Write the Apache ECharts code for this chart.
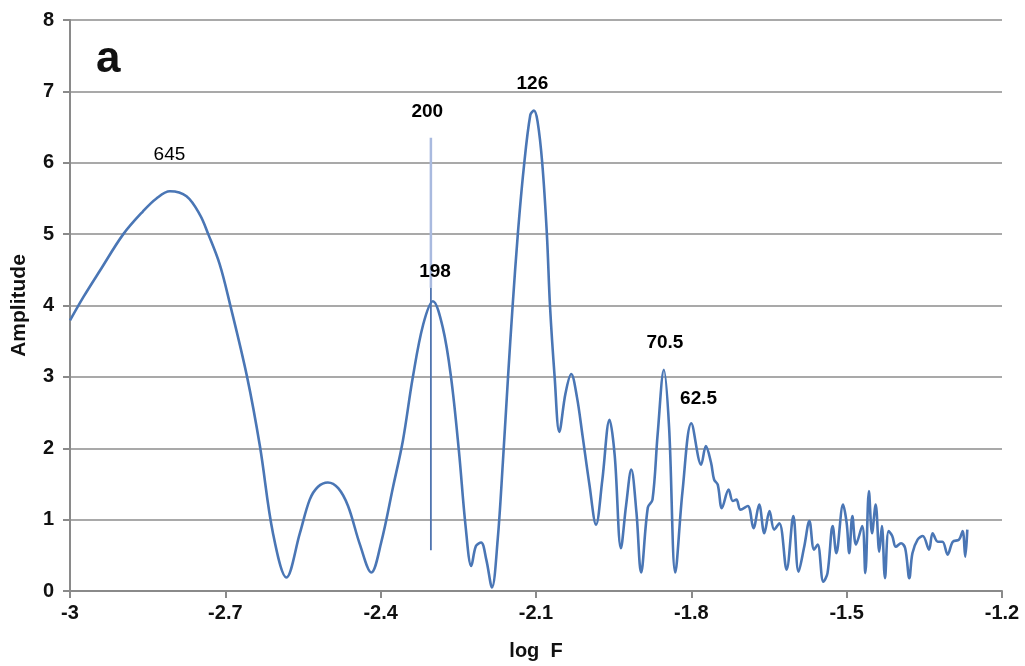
<!DOCTYPE html>
<html>
<head>
<meta charset="utf-8">
<script src="https://cdn.jsdelivr.net/npm/echarts@6/dist/echarts.min.js"></script>
<style>
html,body{margin:0;padding:0;background:#fff;}
#chart{width:1025px;height:666px;}
</style>
</head>
<body>
<div id="chart"></div>
<script>
const logF = [-3.000,-2.974,-2.942,-2.897,-2.859,-2.833,-2.807,-2.775,-2.749,-2.733,-2.711,-2.691,-2.658,-2.633,-2.608,-2.582,-2.556,-2.537,-2.521,-2.502,-2.482,-2.463,-2.440,-2.418,-2.399,-2.376,-2.357,-2.338,-2.318,-2.299,-2.280,-2.264,-2.249,-2.236,-2.225,-2.216,-2.206,-2.196,-2.185,-2.174,-2.164,-2.154,-2.145,-2.135,-2.124,-2.111,-2.104,-2.097,-2.088,-2.079,-2.073,-2.064,-2.055,-2.043,-2.032,-2.021,-2.010,-1.997,-1.984,-1.972,-1.958,-1.948,-1.936,-1.926,-1.916,-1.906,-1.897,-1.884,-1.875,-1.865,-1.853,-1.843,-1.831,-1.817,-1.800,-1.781,-1.772,-1.762,-1.756,-1.749,-1.741,-1.728,-1.720,-1.713,-1.705,-1.691,-1.680,-1.669,-1.659,-1.649,-1.640,-1.630,-1.616,-1.603,-1.593,-1.582,-1.572,-1.563,-1.556,-1.545,-1.537,-1.527,-1.520,-1.507,-1.500,-1.495,-1.489,-1.482,-1.470,-1.464,-1.457,-1.451,-1.444,-1.437,-1.432,-1.426,-1.419,-1.412,-1.405,-1.395,-1.387,-1.379,-1.373,-1.363,-1.353,-1.341,-1.334,-1.324,-1.315,-1.305,-1.295,-1.283,-1.276,-1.271,-1.267];
const amplitude = [3.79,4.12,4.49,5.00,5.32,5.50,5.60,5.53,5.27,5.00,4.58,4.02,3.00,2.02,0.81,0.19,0.81,1.28,1.46,1.52,1.44,1.19,0.65,0.26,0.68,1.46,2.11,2.99,3.73,4.06,3.69,2.99,1.97,0.91,0.35,0.63,0.68,0.44,0.05,0.72,1.80,3.00,4.01,5.01,5.90,6.67,6.73,6.58,6.00,5.00,4.00,3.00,2.23,2.77,3.04,2.72,2.17,1.50,0.93,1.55,2.40,1.90,0.60,1.20,1.70,1.10,0.26,1.17,1.28,2.20,3.10,2.30,0.26,1.40,2.35,1.77,2.03,1.80,1.56,1.49,1.16,1.42,1.26,1.28,1.14,1.19,0.88,1.21,0.81,1.12,0.86,0.95,0.30,1.05,0.27,0.62,0.98,0.58,0.65,0.13,0.25,0.91,0.53,1.21,0.95,0.53,1.05,0.65,0.91,0.25,1.40,0.81,1.21,0.55,0.91,0.18,0.84,0.77,0.62,0.67,0.60,0.18,0.53,0.72,0.77,0.58,0.81,0.69,0.69,0.51,0.69,0.72,0.84,0.48,0.86];

// vertical marker line at period 200
const markerX = -2.303;
const markerUpper = [6.35, 4.25];
const markerLower = [4.25, 0.57];

// peak annotations
const peakLabels = ['645','200','198','126','70.5','62.5'];
const peakX = [-2.807,-2.309,-2.294,-2.106,-1.850,-1.785];
const peakY = [6.10,6.71,4.47,7.10,3.47,2.68];
const peakWeight = ['normal','bold','bold','bold','bold','bold'];

const FONT = '"Liberation Sans", Arial, sans-serif';
const chart = echarts.init(document.getElementById('chart'));
chart.setOption({
  animation:false,
  backgroundColor:'#fff',
  grid:{left:70,right:23,top:20,bottom:69,containLabel:false},
  xAxis:{
    type:'value',min:-3,max:-1.2,interval:0.3,
    name:'log  F',nameLocation:'middle',nameGap:50,
    nameTextStyle:{fontFamily:FONT,fontSize:20,fontWeight:'bold',color:'#111'},
    axisLine:{show:true,onZero:false,lineStyle:{color:'#8a8a8a',width:2}},
    axisTick:{show:true,length:7,lineStyle:{color:'#8a8a8a',width:2}},
    axisLabel:{fontFamily:FONT,fontSize:20,fontWeight:'bold',color:'#111',margin:12,
      formatter:v=>String(+v.toFixed(1))},
    splitLine:{show:false}
  },
  yAxis:{
    type:'value',min:0,max:8,interval:1,
    name:'Amplitude',nameLocation:'middle',nameGap:40,
    nameTextStyle:{fontFamily:FONT,fontSize:21,fontWeight:'bold',color:'#111'},
    axisLine:{show:true,lineStyle:{color:'#8a8a8a',width:2}},
    axisTick:{show:true,length:7,lineStyle:{color:'#8a8a8a',width:2}},
    axisLabel:{fontFamily:FONT,fontSize:20,fontWeight:'bold',color:'#111',margin:16},
    splitLine:{show:true,lineStyle:{color:'#8c8c8c',width:1.6}}
  },
  graphic:[{type:'text',left:96,top:38,style:{text:'a',font:'bold 44px '+FONT,fill:'#111'}}],
  series:[
    {type:'line',data:[[markerX,markerUpper[0]],[markerX,markerUpper[1]]],symbol:'none',
      lineStyle:{color:'#a9badf',width:2.5},z:2,silent:true},
    {type:'line',data:[[markerX,markerLower[0]],[markerX,markerLower[1]]],symbol:'none',
      lineStyle:{color:'#4f74b0',width:1.8},z:2,silent:true},
    {type:'line',data:logF.map((x,i)=>[x,amplitude[i]]),symbol:'none',smooth:0.35,
      lineStyle:{color:'#4a76b5',width:2.6},z:3},
    {type:'scatter',data:peakLabels.map((t,i)=>({value:[peakX[i],peakY[i]],name:t,
        label:{fontWeight:peakWeight[i]}})),
      symbolSize:1,itemStyle:{color:'rgba(0,0,0,0)'},z:4,silent:true,
      label:{show:true,position:[0,0],align:'center',verticalAlign:'middle',formatter:p=>p.name,
        fontFamily:FONT,fontSize:19,color:'#000',textBorderWidth:0,opacity:1}}
  ]
});
</script>
</body>
</html>
